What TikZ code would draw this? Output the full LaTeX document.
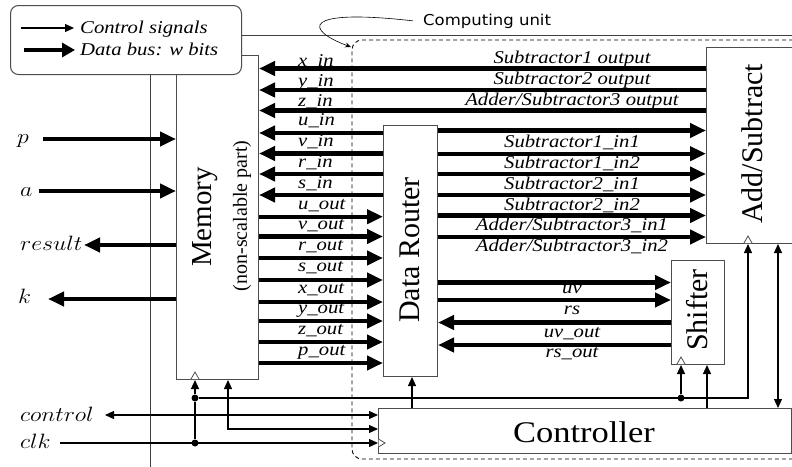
\documentclass[tikz,border=0pt]{standalone}
\usepackage{fontspec}
\usepackage{graphicx}
\setmainfont{Liberation Serif}
\newfontfamily\lblfont[FakeStretch=1.15]{Liberation Serif}
\newfontfamily\cufont[FakeStretch=1.1]{DejaVu Sans}
\usetikzlibrary{arrows.meta}
\newcommand\wmath[1]{\scalebox{1.15}[1]{$#1$}}
\begin{document}
\begin{tikzpicture}[x=1pt,y=-1pt,
  >={Triangle[length=9pt,width=8pt]},
  box/.style={draw=black!70, line width=1pt, fill=white, inner sep=0pt, anchor=north west},
  bus/.style={line width=4.2pt, -{Triangle[length=16pt,width=14pt]}},
  ctl/.style={line width=1.2pt},
  frame/.style={draw=black!75, line width=0.8pt},
  lbl/.style={font=\lblfont\itshape\fontsize{18}{20}\selectfont, inner sep=0pt},
  ext/.style={font=\fontsize{20.74}{22}\selectfont, inner sep=0pt, anchor=base west},
  big/.style={font=\fontsize{30}{32}\selectfont, inner sep=0pt},
  dot/.style={circle, fill, inner sep=0pt, minimum size=7pt},
  clock/.style={draw=black!70, line width=0.8pt, fill=white},
]
\fill[white] (0,0) rectangle (792,466);
\clip (0,0) rectangle (792,466);
% outer frame lines
\draw[frame] (200,35) -- (800,35);
\draw[frame] (150,40) -- (150,470);
% computing unit boundary
\draw[line width=0.9pt, dash pattern=on 4pt off 3pt, rounded corners=10pt] (800,40) -- (352,40) -- (352,459) -- (800,459);
% boxes
\node[box, minimum width=82pt, minimum height=324pt] (mem) at (176,55) {};
\node[box, minimum width=54pt, minimum height=251pt] (router) at (383,125) {};
\node[box, minimum width=100pt, minimum height=196pt] (addsub) at (706,47) {};
\node[box, minimum width=53pt, minimum height=104pt] (shifter) at (671,260) {};
\node[box, minimum width=413pt, minimum height=45pt] (ctrl) at (378,408) {};
\node[box, rounded corners=8pt, minimum width=231pt, minimum height=69pt] (legend) at (10,5) {};
% box texts
\node[font=\fontsize{29}{31}\selectfont, inner sep=0pt, rotate=90] (memt) at (205,217) {Memory};
\node[font=\fontsize{20}{22}\selectfont, inner sep=0pt, rotate=90] (memt2) at (242,216) {(non-scalable part)};
\node[big, rotate=90] (routert) at (410,250) {Data Router};
\node[big, rotate=90] (addsubt) at (752,144) {Add/Subtract};
\node[big, rotate=90] (shiftert) at (697,310) {Shifter};
\node[font=\lblfont\fontsize{30}{32}\selectfont, inner sep=0pt] (ctrlt) at (584,432) {Controller};
% data buses
\foreach \yy in {68.5,90,110.5} \draw[bus] (addsub.west |- 0,\yy) -- (mem.east |- 0,\yy);
\foreach \yy in {133,153.5,174,195} \draw[bus] (router.west |- 0,\yy) -- (mem.east |- 0,\yy);
\foreach \yy in {216.7,236.5,258,280,302,321,342,363} \draw[bus] (mem.east |- 0,\yy) -- (router.west |- 0,\yy);
\foreach \yy in {130.5,153.7,174,195,215.5,237} \draw[bus] (router.east |- 0,\yy) -- (addsub.west |- 0,\yy);
\foreach \yy in {282.5,300} \draw[bus] (router.east |- 0,\yy) -- (shifter.west |- 0,\yy);
\foreach \yy in {322.5,345} \draw[bus] (shifter.west |- 0,\yy) -- (router.east |- 0,\yy);
% external buses
\coordinate (pin) at (43,139);
\coordinate (ain) at (39,191);
\coordinate (rout) at (84,245);
\coordinate (kout) at (48,299);
\draw[bus] (pin) -- (mem.west |- pin);
\draw[bus] (ain) -- (mem.west |- ain);
\draw[bus] (mem.west |- rout) -- (rout);
\draw[bus] (mem.west |- kout) -- (kout);
\node[ext] (plbl) at (17,143) {\wmath{p}};
\node[ext] (albl) at (20,196) {\wmath{a}};
\node[ext] (rlbl) at (20,250) {\wmath{result}};
\node[ext] (klbl) at (18,303) {\wmath{k}};
\node[ext] (ctlbl) at (20,421) {\wmath{control}};
\node[ext] (clklbl) at (20,448) {\wmath{clk}};
% bus labels, memory side
\foreach \t/\yy in {x\_in/66, y\_in/86, z\_in/106, u\_in/125.5, v\_in/146.7, r\_in/167, s\_in/188,
  u\_out/209, v\_out/229, r\_out/250, s\_out/271.7, x\_out/293, y\_out/313, z\_out/334, p\_out/355}
  \node[lbl, anchor=base west] at (298,\yy) {\t};
% bus labels, add/subtract side
\foreach \t/\yy in {{Subtractor1 output}/63.3, {Subtractor2 output}/84, {Adder/Subtractor3 output}/105,
  {Subtractor1\_in1}/147.3, {Subtractor1\_in2}/168, {Subtractor2\_in1}/189, {Subtractor2\_in2}/210,
  {Adder/Subtractor3\_in1}/230, {Adder/Subtractor3\_in2}/251.7,
  {uv}/293, {rs}/314, {uv\_out}/337, {rs\_out}/357}
  \node[lbl, anchor=base] at (572,\yy) {\t};
% control signals
\node[dot] (d1) at (195,398) {};
\node[dot] (d2) at (195,443) {};
\node[dot] (d3) at (681,398) {};
\coordinate (clkin) at (60,443);
\coordinate (ctlin) at (105,415);
\coordinate (m2) at (228,429);
\coordinate (c4) at (748,398);
\draw[ctl,->] (clkin) -- (ctrl.west |- clkin);
\draw[ctl] (d2) -- (d1);
\draw[ctl,->] (d1) -- (mem.south -| d1);
\draw[ctl,->] (d1) -- (c4) -- (addsub.south -| c4);
\draw[ctl,->] (d3) -- (shifter.south -| d3);
\draw[ctl,<->] (ctlin) -- (ctrl.west |- ctlin);
\draw[ctl,<->] (mem.south -| m2) -- (m2) -- (ctrl.west |- m2);
\draw[ctl,->] (ctrl.north -| 412,0) -- (router.south -| 412,0);
\draw[ctl,->] (ctrl.north -| 707,0) -- (shifter.south -| 707,0);
\draw[ctl,<->] (addsub.south -| 778,0) -- (ctrl.north -| 778,0);
% clock markers
\draw[clock] (191,379) -- (195,372) -- (199,379);
\draw[clock] (677,364) -- (681,357) -- (685,364);
\draw[clock] (744,243) -- (748,236) -- (752,243);
\draw[clock] (378.5,439) -- (385,443) -- (378.5,447);
% legend
\coordinate (lg1a) at (21,28);
\coordinate (lg1b) at (74,28);
\coordinate (lg2a) at (24,50);
\coordinate (lg2b) at (75,50);
\draw[ctl,->] (lg1a) -- (lg1b);
\draw[line width=4.5pt, -{Triangle[length=13pt,width=14pt]}] (lg2a) -- (lg2b);
\node[lbl, anchor=base west] (lgt1) at (80,33.5) {Control signals};
\node[lbl, anchor=base west] (lgt2) at (80,55) {Data bus: w bits};
% computing unit label
\node[anchor=base west, inner sep=0pt, font=\cufont\fontsize{15}{16}\selectfont] (cu) at (423,25) {Computing unit};
\draw[line width=0.6pt, -{Stealth[length=6pt,width=5pt]}] ([xshift=-10pt]cu.west) .. controls (300,8) and (305,30) .. (351,47);
\end{tikzpicture}
\end{document}
